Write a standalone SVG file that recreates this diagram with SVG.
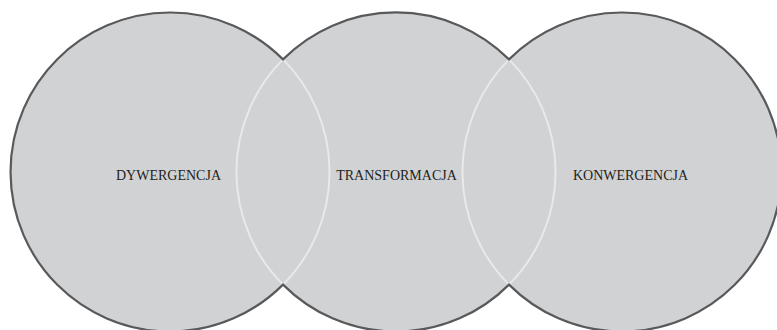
<svg xmlns="http://www.w3.org/2000/svg" width="777" height="330" viewBox="0 0 777 330">
  <style>
    .disc { fill: #d1d2d4; stroke: none; }
    .lens { fill: none; stroke: #e9e9ea; stroke-width: 2; }
    .outline { fill: none; stroke: #58595b; stroke-width: 2.2; stroke-linejoin: miter; }
    .label { font-family: "Liberation Serif", "Times New Roman", serif; font-size: 14px; fill: #231f20; text-anchor: middle; }
  </style>

  <!-- three overlapping discs, each with its own label -->
  <g id="dywergencja">
    <circle class="disc" cx="170" cy="172" r="159.5"/>
    <text class="label" x="168.5" y="179.5">DYWERGENCJA</text>
  </g>
  <g id="transformacja">
    <circle class="disc" cx="396" cy="172" r="159.5"/>
    <text class="label" x="396.5" y="179.5">TRANSFORMACJA</text>
  </g>
  <g id="konwergencja">
    <circle class="disc" cx="622" cy="172" r="159.5"/>
    <text class="label" x="630.5" y="179.5">KONWERGENCJA</text>
  </g>

  <!-- light arcs where the discs overlap, then the dark outline of the union -->
  <g id="connectors">
    <path class="lens" d="M283,59.4 A159.5,159.5 0 0 1 283,284.6"/>
    <path class="lens" d="M283,59.4 A159.5,159.5 0 0 0 283,284.6"/>
    <path class="lens" d="M509,59.4 A159.5,159.5 0 0 1 509,284.6"/>
    <path class="lens" d="M509,59.4 A159.5,159.5 0 0 0 509,284.6"/>
    <path class="outline" d="M283,59.4 A159.5,159.5 0 1 0 283,284.6 A159.5,159.5 0 0 0 509,284.6 A159.5,159.5 0 1 0 509,59.4 A159.5,159.5 0 0 0 283,59.4 Z"/>
  </g>
</svg>
